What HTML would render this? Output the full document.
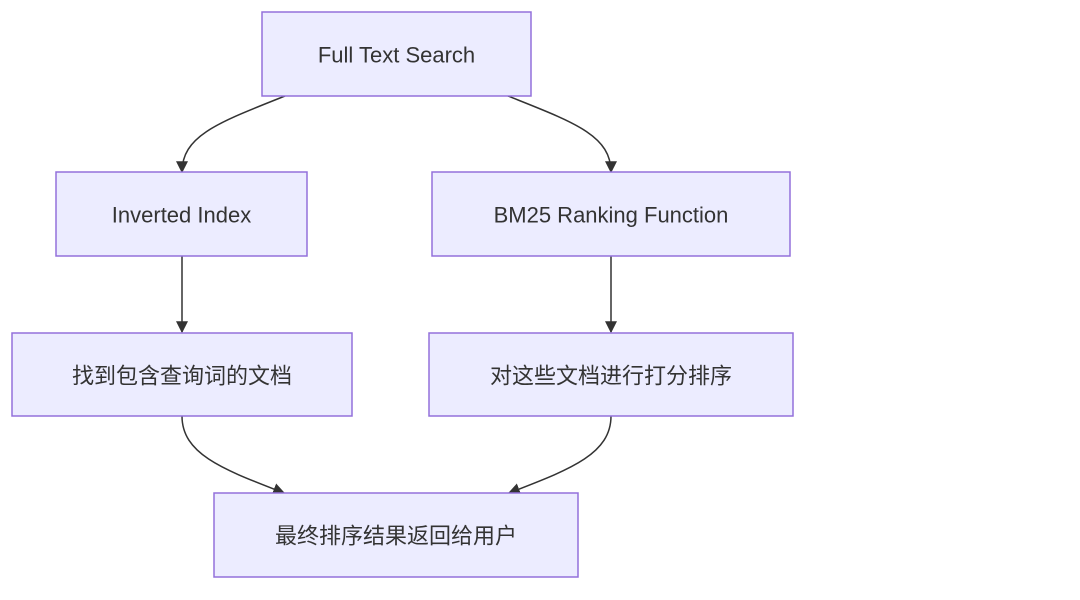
<!DOCTYPE html>
<html><head><meta charset="utf-8"><style>
html,body{margin:0;padding:0;background:#fff;width:1080px;height:600px;overflow:hidden}
text{font-family:"Liberation Sans","Noto Sans CJK SC",sans-serif;font-size:22px;fill:#333;text-anchor:middle;dominant-baseline:central}
rect{fill:#ECECFF;stroke:#9370DB;stroke-width:1.5}
path.e{fill:none;stroke:#333;stroke-width:1.5}
</style></head><body>
<svg width="1080" height="600" xmlns="http://www.w3.org/2000/svg">
<defs><marker id="a" viewBox="0 0 10 10" refX="9" refY="5" markerWidth="12" markerHeight="12" orient="auto" markerUnits="userSpaceOnUse"><path d="M0,0L10,5L0,10z" fill="#333"/></marker></defs>
<path class="e" d="M285,96 C220,122 182,135 182,172" marker-end="url(#a)"/>
<path class="e" d="M508,96 C573,122 611,135 611,172" marker-end="url(#a)"/>
<path class="e" d="M182,256 L182,332" marker-end="url(#a)"/>
<path class="e" d="M611,256 L611,332" marker-end="url(#a)"/>
<path class="e" d="M182,416 C182,455 225,470 284,493" marker-end="url(#a)"/>
<path class="e" d="M611,416 C611,455 568,470 509,493" marker-end="url(#a)"/>
<rect x="262" y="12" width="269" height="84"/><text x="396.5" y="55">Full Text Search</text>
<rect x="56" y="172" width="251" height="84"/><text x="181.5" y="215">Inverted Index</text>
<rect x="432" y="172" width="358" height="84"/><text x="611" y="215">BM25 Ranking Function</text>
<rect x="12" y="333" width="340" height="83"/><text x="182" y="376">找到包含查询词的文档</text>
<rect x="429" y="333" width="364" height="83"/><text x="611" y="376">对这些文档进行打分排序</text>
<rect x="214" y="493" width="364" height="84"/><text x="396" y="536">最终排序结果返回给用户</text>
</svg>
</body></html>
